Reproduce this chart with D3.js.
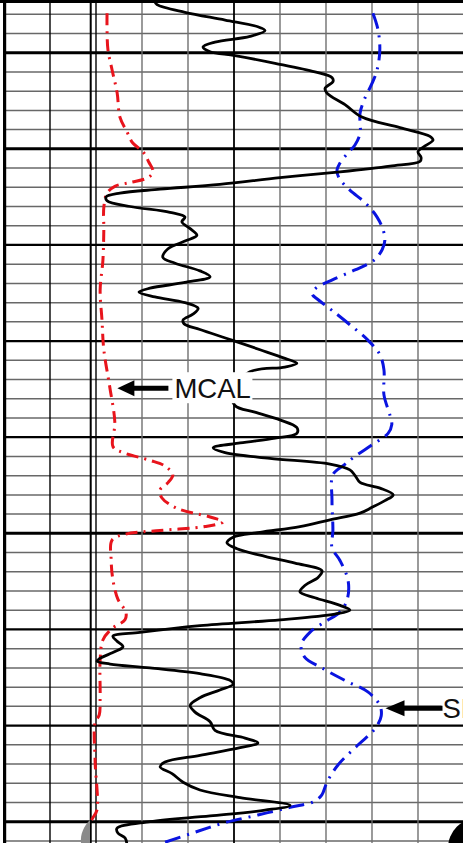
<!DOCTYPE html>
<html>
<head>
<meta charset="utf-8">
<script src="https://cdn.jsdelivr.net/npm/d3@7/dist/d3.min.js"></script>
<style>
  body { margin: 0; background: #fff; }
  svg { display: block; }
  .lbl { font-family: "Liberation Sans", Arial, sans-serif; font-size: 27.5px; fill: #111; }
</style>
</head>
<body>
<div id="log"></div>
<script>
// depth in ft, GR in API (0-150), MCAL in inches (6-16), SP in mV (-100..0)
var grDepth = [4994.7, 4995.0, 4995.8, 4996.6, 4997.3, 4997.7, 4998.3, 4998.9, 4999.4, 4999.9,
  5000.3, 5001.1, 5002.0, 5002.6, 5003.0, 5003.7, 5004.2, 5005.4, 5006.7, 5007.8,
  5008.7, 5009.1, 5009.7, 5010.3, 5010.9, 5011.3, 5011.8, 5012.4, 5013.0, 5013.7,
  5014.2, 5014.6, 5015.0, 5015.4, 5016.0, 5016.6, 5017.1, 5017.6, 5018.3, 5019.0,
  5019.6, 5020.4, 5021.3, 5021.9, 5022.7, 5023.3, 5023.9, 5024.5, 5024.9, 5025.4,
  5026.0, 5026.6, 5027.2, 5027.8, 5028.2, 5028.8, 5029.9, 5030.9, 5031.8, 5032.3,
  5032.7, 5033.2, 5035.1, 5036.7, 5037.4, 5038.2, 5039.0, 5039.6, 5040.1, 5040.6,
  5041.1, 5041.6, 5042.2, 5042.8, 5043.4, 5044.0, 5044.7, 5045.3, 5046.0, 5046.6,
  5047.3, 5047.9, 5048.6, 5049.3, 5049.9, 5050.4, 5051.0, 5051.6, 5052.4, 5053.1,
  5053.9, 5054.6, 5055.4, 5056.1, 5056.7, 5057.5, 5058.0, 5058.4, 5059.0, 5059.6,
  5060.3, 5060.7, 5061.2, 5061.8, 5062.3, 5063.0, 5063.3, 5063.6, 5064.0, 5064.6,
  5065.3, 5065.7, 5066.3, 5067.1, 5067.9, 5068.6, 5069.6, 5070.5, 5071.3, 5071.8,
  5072.3, 5073.1, 5073.8, 5074.3, 5075.0, 5075.9, 5076.7, 5077.5, 5078.3, 5078.8,
  5079.4, 5080.0, 5080.7, 5081.2, 5081.7, 5082.4];
var grValue = [49.2, 49.9, 59.0, 72.1, 82.8, 85.1, 80.2, 68.8, 64.9, 67.2,
  75.3, 88.4, 101.4, 107.0, 107.3, 104.7, 105.3, 111.2, 116.7, 129.1,
  138.9, 139.9, 137.3, 135.0, 136.0, 135.7, 125.9, 109.6, 90.0, 70.4,
  50.9, 37.8, 33.3, 33.6, 41.1, 54.1, 59.0, 58.0, 60.7, 62.9,
  59.0, 53.5, 51.8, 55.8, 63.9, 67.2, 59.0, 47.6, 44.0, 49.2,
  59.0, 63.3, 61.6, 58.4, 58.7, 63.9, 74.3, 83.5, 91.6, 95.5,
  91.6, 80.2, 74.3, 75.3, 81.8, 90.0, 95.5, 95.5, 88.4, 77.0,
  68.2, 72.1, 86.7, 106.3, 112.8, 114.5, 116.1, 122.6, 126.9, 124.2,
  120.0, 116.1, 106.3, 96.5, 83.5, 74.7, 72.7, 76.0, 85.1, 94.9,
  103.7, 102.4, 98.2, 96.5, 101.4, 109.6, 112.8, 107.9, 90.0, 63.9,
  44.3, 35.5, 36.8, 38.8, 36.2, 31.3, 30.3, 34.6, 47.6, 63.9,
  73.7, 74.7, 70.4, 63.9, 60.7, 62.3, 67.2, 68.8, 78.6, 82.8,
  77.0, 63.9, 52.5, 50.9, 54.8, 58.4, 63.9, 77.0, 93.3, 85.1,
  67.2, 47.6, 36.8, 37.2, 39.5, 40.1];

var mcalDepth = [4995.9, 4997.6, 4999.7, 5001.8, 5004.2, 5006.7, 5008.2, 5009.4, 5010.3, 5011.4,
  5012.4, 5013.0, 5013.5, 5013.9, 5014.6, 5016.1, 5018.4, 5021.6, 5024.7, 5027.8,
  5030.9, 5034.8, 5038.5, 5041.0, 5041.6, 5042.4, 5043.0, 5043.9, 5044.7, 5045.5,
  5046.3, 5047.4, 5048.3, 5048.8, 5049.3, 5049.7, 5050.1, 5050.7, 5052.8, 5054.9,
  5056.9, 5058.2, 5059.0, 5059.9, 5061.1, 5063.2, 5067.0, 5068.9, 5069.7, 5073.6,
  5078.8, 5079.6, 5080.1];
var mcalValue = [8.24, 8.24, 8.26, 8.35, 8.46, 8.52, 8.67, 8.80, 9.02, 9.15,
  9.24, 9.13, 8.74, 8.41, 8.24, 8.17, 8.17, 8.15, 8.09, 8.13,
  8.17, 8.30, 8.41, 8.37, 8.59, 9.17, 9.50, 9.67, 9.57, 9.39,
  9.43, 9.76, 10.48, 10.76, 10.37, 9.39, 8.63, 8.35, 8.33, 8.37,
  8.48, 8.65, 8.63, 8.35, 8.15, 8.09, 8.09, 8.07, 7.98, 7.98,
  8.02, 7.93, 7.87];

var spDepth = [4995.9, 4997.6, 4999.7, 5001.8, 5003.2, 5004.9, 5006.3, 5008.4, 5009.6, 5010.4,
  5011.5, 5012.2, 5013.0, 5014.3, 5015.6, 5017.1, 5018.4, 5019.5, 5020.5, 5021.6,
  5022.6, 5023.6, 5024.5, 5025.1, 5025.7, 5026.8, 5028.3, 5029.9, 5031.4, 5033.0,
  5035.6, 5037.7, 5038.7, 5039.6, 5040.8, 5042.0, 5042.9, 5043.9, 5046.5, 5049.7,
  5051.5, 5052.8, 5054.9, 5056.9, 5058.2, 5059.2, 5060.3, 5061.6, 5062.9, 5064.0,
  5065.3, 5066.5, 5067.9, 5069.0, 5070.3, 5072.0, 5074.1, 5075.9, 5077.2, 5077.9,
  5078.5, 5079.3, 5080.1, 5081.1, 5082.2];
var spValue = [-19.8, -18.7, -18.3, -18.9, -20.0, -21.7, -22.6, -22.6, -23.7, -25.2,
  -27.0, -27.6, -27.2, -24.8, -21.5, -18.9, -17.6, -17.2, -17.8, -19.6,
  -23.7, -28.5, -32.2, -33.0, -31.7, -28.7, -24.8, -20.9, -18.3, -17.4,
  -17.4, -16.1, -15.7, -16.5, -20.0, -23.7, -26.1, -28.5, -28.7, -28.5,
  -28.7, -27.0, -25.2, -25.4, -27.0, -30.2, -33.5, -35.4, -34.6, -30.9,
  -25.9, -20.9, -18.3, -18.0, -19.3, -23.0, -27.4, -29.8, -30.9, -32.6,
  -37.8, -44.8, -52.0, -58.5, -65.4];

var depthTicks = d3.range(4996, 5083, 2);   // 2 ft minor, 10 ft major
var divisions = d3.range(1, 10);
var labels = [
  { text: "MCAL", depth: 5034.8, value: 8.4 },
  { text: "SP", depth: 5068.2, value: -17.5 }
];

var width = 463, height = 843;

var svg = d3.select("#log").append("svg")
    .attr("width", width)
    .attr("height", height);

var y = d3.scaleLinear().domain([5000, 5080]).range([52.7, 821.7]);
var grid = d3.scaleLinear().domain([0, 10]).range([4, 464]);
var xGR = d3.scaleLinear().domain([0, 150]).range([4, 464]);
var xCal = d3.scaleLinear().domain([6, 16]).range([4, 464]);
var xSP = d3.scaleLinear().domain([-100, 0]).range([4, 464]);

// grid
var hLines = svg.append("g");
hLines.selectAll("line")
    .data(depthTicks)
    .enter()
    .append("line")
    .attr("x1", grid(0))
    .attr("x2", width)
    .attr("y1", function(d){ return y(d); })
    .attr("y2", function(d){ return y(d); })
    .attr("stroke", function(d){ return d % 10 === 0 ? "#000" : "#686868"; })
    .attr("stroke-width", function(d){
        if (d % 10 !== 0) return 1.5;
        return (d === 5000 || d === 5010 || d === 5050 || d === 5080) ? 3 : 2.3;
    });

var vLines = svg.append("g");
vLines.selectAll("line")
    .data(divisions)
    .enter()
    .append("line")
    .attr("x1", function(d){ return grid(d); })
    .attr("x2", function(d){ return grid(d); })
    .attr("y1", 3)
    .attr("y2", height)
    .attr("stroke", function(d){ return (d === 1 || d === 2 || d === 5) ? "#000" : "#707070"; })
    .attr("stroke-width", function(d){ return d === 5 ? 1.8 : 1.4; });

// track edge next to division 2
svg.append("line")
    .attr("x1", grid(1.885)).attr("x2", grid(1.885))
    .attr("y1", 3).attr("y2", height)
    .attr("stroke", "#000").attr("stroke-width", 2);

// borders
svg.append("line")
    .attr("x1", 0).attr("x2", width).attr("y1", 1.5).attr("y2", 1.5)
    .attr("stroke", "#000").attr("stroke-width", 3.2);
svg.append("line")
    .attr("x1", grid(0) + 0.6).attr("x2", grid(0) + 0.6).attr("y1", 0).attr("y2", height)
    .attr("stroke", "#000").attr("stroke-width", 3.2);

// curves
function curve(depths, values, xs) {
    return d3.line()
        .x(function(d, i){ return xs(values[i]); })
        .y(function(d){ return y(d); })
        .curve(d3.curveCatmullRom.alpha(0.5))(depths);
}

svg.append("path")
    .attr("d", curve(mcalDepth, mcalValue, xCal))
    .attr("fill", "none")
    .attr("stroke", "#e8141c")
    .attr("stroke-width", 3)
    .attr("stroke-dasharray", "12,6,2,6");

svg.append("path")
    .attr("d", curve(spDepth, spValue, xSP))
    .attr("fill", "none")
    .attr("stroke", "#0a14e0")
    .attr("stroke-width", 3)
    .attr("stroke-dasharray", "16,7,2,7");

svg.append("path")
    .attr("d", curve(grDepth, grValue, xGR))
    .attr("fill", "none")
    .attr("stroke", "#000")
    .attr("stroke-width", 2.8)
    .attr("stroke-linejoin", "round");

// labels with arrows
var mc = labels[0], sp = labels[1];
var mcX = xCal(mc.value) + 3, mcY = y(mc.depth) + 1;
svg.append("rect")
    .attr("x", mcX + 55).attr("y", mcY - 16).attr("width", 80).attr("height", 31)
    .attr("fill", "#fff");
svg.append("line")
    .attr("x1", mcX + 15).attr("x2", mcX + 51).attr("y1", mcY).attr("y2", mcY)
    .attr("stroke", "#000").attr("stroke-width", 5);
svg.append("path")
    .attr("d", "M" + mcX + "," + mcY + "l17,-8v16z")
    .attr("fill", "#000");
svg.append("text")
    .attr("class", "lbl")
    .attr("x", mcX + 57).attr("y", mcY + 10)
    .text(mc.text);

var spX = xSP(sp.value) + 2, spY = y(sp.depth);
svg.append("rect")
    .attr("x", spX + 56).attr("y", spY - 14).attr("width", 30).attr("height", 28)
    .attr("fill", "#fff");
svg.append("line")
    .attr("x1", spX + 16).attr("x2", spX + 57).attr("y1", spY).attr("y2", spY)
    .attr("stroke", "#000").attr("stroke-width", 5);
svg.append("path")
    .attr("d", "M" + spX + "," + spY + "l19,-8v16z")
    .attr("fill", "#000");
svg.append("text")
    .attr("class", "lbl")
    .attr("x", spX + 57).attr("y", spY + 10)
    .text(sp.text);

// scan marks at the bottom
svg.append("path")
    .attr("d", "M90,820 C84,826 80,834 81,843 L90,843 Z")
    .attr("fill", "#8a8a8a");
svg.append("circle")
    .attr("cx", 478).attr("cy", 848).attr("r", 30)
    .attr("fill", "#000");
</script>
</body>
</html>
